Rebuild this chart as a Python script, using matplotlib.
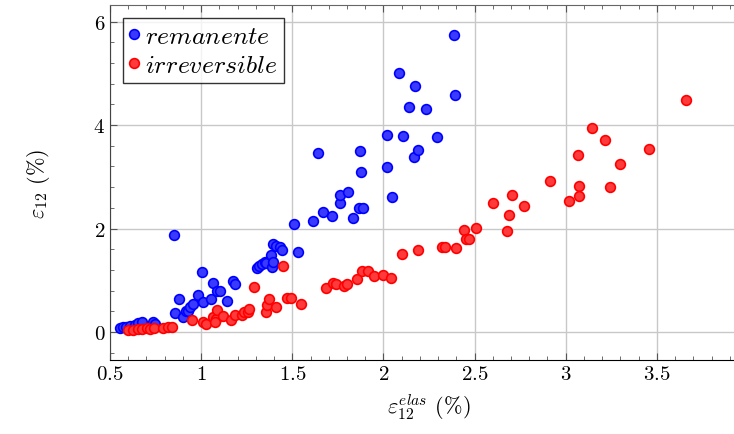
import matplotlib
matplotlib.use('Agg')
import matplotlib.pyplot as plt
from matplotlib.ticker import MultipleLocator, FuncFormatter

plt.rcParams['mathtext.fontset'] = 'cm'
plt.rcParams['font.family'] = 'serif'
plt.rcParams['font.serif'] = ['cmr10', 'DejaVu Serif']

# remanente (blue)
x_rem = [0.555, 0.571, 0.59, 0.61, 0.637, 0.654, 0.676, 0.736, 0.747,
         0.85, 0.856, 0.878, 0.90, 0.915, 0.928, 0.939, 0.955, 0.982,
         1.004, 1.010, 1.054, 1.065, 1.087, 1.103, 1.141, 1.174, 1.185,
         1.306, 1.320, 1.333, 1.350, 1.355, 1.383, 1.388, 1.394,
         1.394, 1.41, 1.43, 1.445, 1.531, 1.509, 1.613, 1.640, 1.668,
         1.717, 1.761, 1.761, 1.805, 1.832, 1.865, 1.887, 1.871, 1.876,
         2.018, 2.019, 2.046, 2.084, 2.106, 2.139, 2.167, 2.172, 2.189,
         2.232, 2.293, 2.386, 2.391]
y_rem = [0.08, 0.10, 0.09, 0.12, 0.13, 0.17, 0.19, 0.19, 0.15,
         1.88, 0.37, 0.64, 0.29, 0.40, 0.41, 0.48, 0.54, 0.72,
         1.16, 0.58, 0.64, 0.95, 0.79, 0.79, 0.60, 0.99, 0.93,
         1.24, 1.28, 1.31, 1.35, 1.33, 1.49, 1.26, 1.35,
         1.70, 1.66, 1.64, 1.58, 1.55, 2.09, 2.14, 3.46, 2.32,
         2.24, 2.49, 2.65, 2.71, 2.20, 2.40, 2.40, 3.50, 3.09,
         3.81, 3.19, 2.61, 5.00, 3.79, 4.35, 3.38, 4.75, 3.52,
         4.31, 3.77, 5.74, 4.58]

# irreversible (red)
x_irr = [0.599, 0.626, 0.654, 0.675, 0.703, 0.719, 0.741, 0.791, 0.818, 0.840,
         0.95, 1.01, 1.026, 1.065, 1.081, 1.087, 1.076, 1.12, 1.163, 1.185,
         1.224, 1.235, 1.257, 1.262, 1.29, 1.355, 1.36, 1.372, 1.41, 1.449,
         1.47, 1.492, 1.547, 1.684, 1.723, 1.739, 1.783, 1.80, 1.854, 1.88,
         1.915, 1.947, 1.997, 2.04, 2.10, 2.19, 2.32, 2.34, 2.40, 2.44,
         2.452, 2.47, 2.51, 2.60, 2.68, 2.69, 2.704, 2.77, 2.912, 3.016,
         3.066, 3.071, 3.071, 3.143, 3.214, 3.241, 3.296, 3.455, 3.658]
y_irr = [0.04, 0.04, 0.06, 0.05, 0.07, 0.06, 0.07, 0.08, 0.10, 0.10,
         0.23, 0.19, 0.15, 0.29, 0.25, 0.42, 0.19, 0.31, 0.23, 0.33,
         0.33, 0.39, 0.39, 0.44, 0.87, 0.39, 0.52, 0.64, 0.48, 1.28,
         0.66, 0.66, 0.54, 0.85, 0.95, 0.93, 0.89, 0.93, 1.02, 1.18,
         1.18, 1.08, 1.10, 1.04, 1.51, 1.58, 1.64, 1.65, 1.62, 1.97,
         1.80, 1.80, 2.01, 2.49, 1.95, 2.26, 2.65, 2.43, 2.92, 2.53,
         3.42, 2.82, 2.63, 3.94, 3.71, 2.80, 3.25, 3.54, 4.48]

xticks = [0.5, 1, 1.5, 2, 2.5, 3, 3.5]
yticks = [0, 2, 4, 6]

fig = plt.figure(figsize=(7.34, 4.35), dpi=100)
# axes runs past the right edge of the picture, like the reference
ax = fig.add_axes([110/734, 1 - 361/435, 638/734, 355/435])

ax.plot(x_rem, y_rem, 'o', ms=7, mfc='#3a3aff', mec='#0000ff', mew=1.2,
        label=r'$remanente$', zorder=3)
ax.plot(x_irr, y_irr, 'o', ms=7, mfc='#ff3a3a', mec='#ff0000', mew=1.2,
        label=r'$irreversible$', zorder=3)

ax.set_xlim(0.5, 4.0)
ax.set_ylim(-0.54, 6.32)
ax.set_xticks(xticks)
ax.set_yticks(yticks)
ax.xaxis.set_minor_locator(MultipleLocator(0.1))
ax.yaxis.set_minor_locator(MultipleLocator(0.4))
fmt = FuncFormatter(lambda v, p: '$%g$' % v)
ax.xaxis.set_major_formatter(fmt)
ax.yaxis.set_major_formatter(fmt)
ax.tick_params(which='both', direction='in', top=True, right=False,
               labelsize=15, color='#555555')
ax.tick_params(which='major', length=5)
ax.tick_params(which='minor', length=3)
ax.grid(True, which='major', color='#c8c8c8', lw=1)
ax.set_axisbelow(True)
ax.spines['right'].set_visible(False)
ax.spines['top'].set_color('#666666')
ax.spines['left'].set_color('#444444')

ax.set_xlabel(r'$\varepsilon_{12}^{elas}$ $(\%)$', fontsize=16, labelpad=6)
ax.set_ylabel(r'$\varepsilon_{12}$ $(\%)$', fontsize=16, labelpad=30)

leg = ax.legend(loc='upper left', fontsize=18.5, frameon=True, fancybox=False,
                edgecolor='black', handlelength=0.4, handletextpad=0.2,
                borderpad=0.25, labelspacing=0.2, borderaxespad=0.5,
                markerscale=1.0)
leg.get_frame().set_linewidth(1.0)

fig.savefig('out.png', dpi=100)
